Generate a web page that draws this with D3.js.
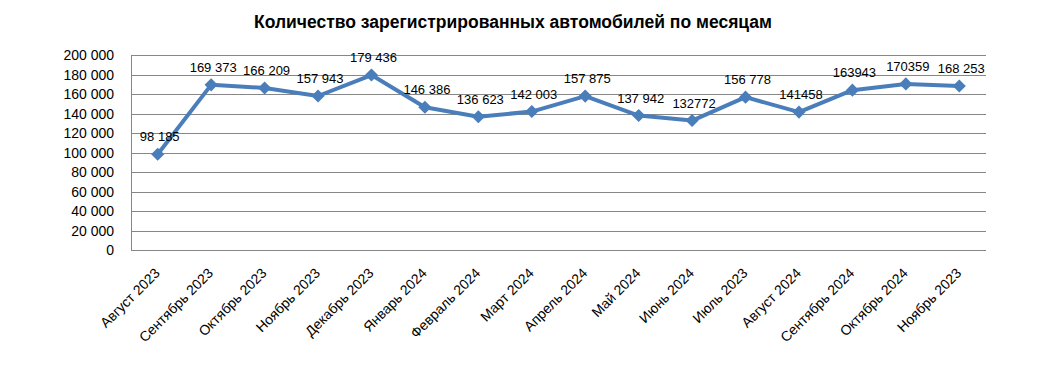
<!DOCTYPE html>
<html>
<head>
    <meta charset="utf-8">
    <title>Количество зарегистрированных автомобилей</title>
    <script src="https://d3js.org/d3.v7.min.js"></script>
    <style>
        body { margin: 0; background: #fff; }
        text { font-family: "Liberation Sans", Arial, sans-serif; }
    </style>
</head>
<body>
    <svg width="1052" height="385"></svg>

    <script>
    const months = ["Август 2023", "Сентябрь 2023", "Октябрь 2023", "Ноябрь 2023", "Декабрь 2023",
                    "Январь 2024", "Февраль 2024", "Март 2024", "Апрель 2024", "Май 2024",
                    "Июнь 2024", "Июль 2023", "Август 2024", "Сентябрь 2024", "Октябрь 2024", "Ноябрь 2023"];
    const cars = [98185, 169373, 166209, 157943, 179436, 146386, 136623, 142003, 157875,
                  137942, 132772, 156778, 141458, 163943, 170359, 168253];
    // labels as printed on the chart (some have no thousands space)
    const labels = ["98 185", "169 373", "166 209", "157 943", "179 436", "146 386", "136 623", "142 003",
                    "157 875", "137 942", "132772", "156 778", "141458", "163943", "170359", "168 253"];
    const yTicks = [0, 20000, 40000, 60000, 80000, 100000, 120000, 140000, 160000, 180000, 200000];

    const svg = d3.select("svg");
    const mLeft = 131, mRight = 986, mTop = 55, mBottom = 250;
    const blue = "#4a7ebb";

    // months repeat ("Ноябрь 2023" twice), so the band scale works on positions
    const idx = d3.range(cars.length);
    const x = d3.scaleBand().domain(idx).range([mLeft, mRight]);
    const y = d3.scaleLinear().domain([0, 200000]).range([mBottom, mTop]);
    const fmt = v => d3.format(",")(v).replace(/,/g, " ");
    const cx = i => x(i) + x.bandwidth() / 2;

    svg.append("text")
        .attr("x", 513).attr("y", 28)
        .attr("text-anchor", "middle")
        .style("font-size", "17.5px").style("font-weight", "bold")
        .text("Количество зарегистрированных автомобилей по месяцам");

    // gridlines
    svg.append("g").selectAll("line")
        .data(yTicks)
        .enter().append("line")
        .attr("x1", mLeft).attr("x2", mRight)
        .attr("y1", d => Math.round(y(d)) + 0.5).attr("y2", d => Math.round(y(d)) + 0.5)
        .style("stroke", "#878787").style("stroke-width", 1);

    svg.append("line")
        .attr("x1", mLeft + 0.5).attr("x2", mLeft + 0.5)
        .attr("y1", Math.round(y(200000)) + 0.5).attr("y2", Math.round(y(0)) + 0.5)
        .style("stroke", "#878787");

    // y tick labels
    svg.append("g").selectAll("text")
        .data(yTicks)
        .enter().append("text")
        .attr("x", 114).attr("y", d => y(d) + 5)
        .attr("text-anchor", "end")
        .style("font-size", "14px")
        .text(d => fmt(d));

    // x labels
    svg.append("g").selectAll("text")
        .data(idx)
        .enter().append("text")
        .attr("transform", i => `translate(${cx(i) - 4},${mBottom + 17}) rotate(-45)`)
        .attr("text-anchor", "end")
        .attr("dy", "0.7em")
        .style("font-size", "14px")
        .text(i => months[i]);

    svg.append("path")
        .datum(idx)
        .attr("d", d3.line().x(i => cx(i)).y(i => y(cars[i])))
        .style("fill", "none")
        .style("stroke", blue)
        .style("stroke-width", 4)
        .style("stroke-linejoin", "round");

    svg.append("g").selectAll("path")
        .data(idx)
        .enter().append("path")
        .attr("transform", i => `translate(${cx(i)},${y(cars[i])})`)
        .attr("d", d3.symbol().type(d3.symbolDiamond2).size(110))
        .style("fill", blue);

    svg.append("g").selectAll("text")
        .data(idx)
        .enter().append("text")
        .attr("x", i => cx(i) + 2)
        .attr("y", i => y(cars[i]) - 13)
        .attr("text-anchor", "middle")
        .style("font-size", "13px")
        .text(i => labels[i]);
    </script>
</body>
</html>
